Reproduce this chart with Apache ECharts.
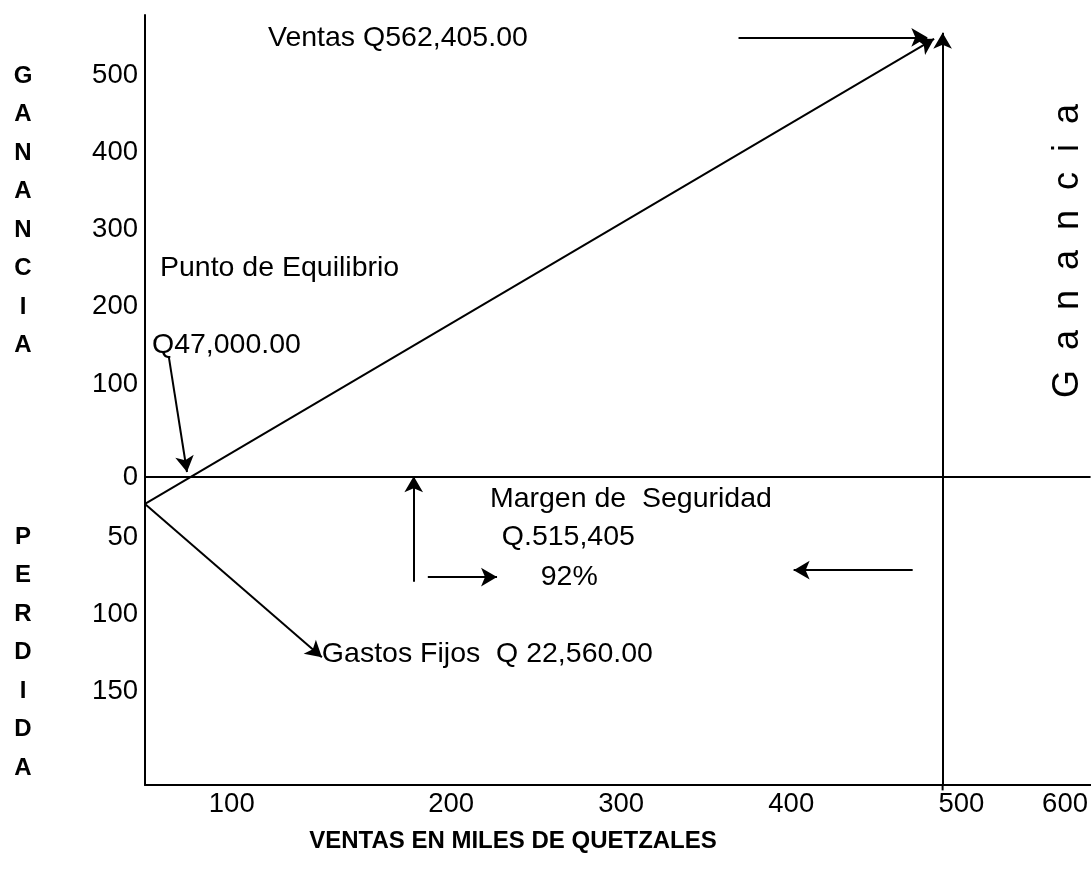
<!DOCTYPE html>
<html><head><meta charset="utf-8">
<script src="https://cdn.jsdelivr.net/npm/echarts@6/dist/echarts.min.js"></script>
<style>html,body{margin:0;padding:0;background:#fff}#c{width:1091px;height:883px}</style>
</head><body><div id="c"></div>
<script>
// ---- tick labels (custom positions, as drawn in the schematic) ----
const xTickValues = [71, 200, 300, 400, 500, 561];
const xTickLabels = ['100', '200', '300', '400', '500', '600'];
const yTickValues = [521, 421, 322, 221, 120, 0, -78, -179, -279];
const yTickLabels = ['500', '400', '300', '200', '100', '0', '50', '100', '150'];

// ---- chart values (miles de quetzales, schematic) ----
const origin = [20, -35];          // gastos fijos start at zero sales
const ventasPoint = [484, 569];    // Ventas Q562,405.00
const gastosPoint = [124, -234];   // Gastos fijos arrow end
const ventasX = 489;               // vertical line at sales level
const ventasTop = 577;
const zeroLine = [[13, 0], [576, 0]];

// arrows [from, to]
const arrowVentas = [origin, ventasPoint];
const arrowGastos = [origin, gastosPoint];
const arrowVertical = [[ventasX, -400], [ventasX, ventasTop]];
const arrowVentasLabel = [[369, 571], [480, 571]];
const arrowEquilibrio = [[34, 156], [44.7, 6.5]];
const arrowMargenUp = [[178, -136], [178, 1]];
const arrowMargenRight = [[186.3, -130], [227, -130]];
const arrowMargenLeft = [[471.4, -121], [401.4, -121]];

// annotation texts and anchors (left edge, vertical middle)
const annotationTexts = ['Ventas Q562,405.00', 'Punto de Equilibrio', 'Q47,000.00',
  'Margen de  Seguridad', 'Q.515,405', '92%', 'Gastos Fijos  Q 22,560.00'];
const annotationAnchors = [[92.3, 570], [28.8, 271.4], [24.1, 171.4],
  [222.8, -28.6], [229.8, -77.9], [252.7, -129.9], [124, -229.9]];

const FONT = 'Liberation Sans, Arial, Helvetica, sans-serif';
const BLACK = '#000';

const chart = echarts.init(document.getElementById('c'), null, {renderer: 'canvas'});

const arrows = [arrowVentas, arrowGastos, arrowVertical, arrowVentasLabel,
  arrowEquilibrio, arrowMargenUp, arrowMargenRight, arrowMargenLeft];

chart.setOption({
  animation: false,
  backgroundColor: '#fff',
  grid: {left: 145, top: 15, right: 0, bottom: 98, containLabel: false},
  xAxis: {
    type: 'value', min: 20, max: 576,
    axisLine: {show: true, onZero: false, lineStyle: {color: BLACK, width: 2}},
    axisTick: {show: false},
    splitLine: {show: false},
    axisLabel: {
      show: true, customValues: xTickValues, margin: 5,
      color: BLACK, fontSize: 27.5, fontFamily: FONT,
      formatter: v => { const i = xTickValues.indexOf(v); return i >= 0 ? xTickLabels[i] : ''; }
    }
  },
  yAxis: {
    type: 'value', min: -400, max: 600,
    axisLine: {show: true, onZero: false, lineStyle: {color: BLACK, width: 2}},
    axisTick: {show: false},
    splitLine: {show: false},
    axisLabel: {
      show: true, customValues: yTickValues, margin: 7,
      color: BLACK, fontSize: 27.5, fontFamily: FONT,
      formatter: v => { const i = yTickValues.indexOf(v); return i >= 0 ? yTickLabels[i] : ''; }
    }
  },
  series: [
    {
      type: 'line', data: zeroLine, symbol: 'none', clip: false, silent: true,
      lineStyle: {color: BLACK, width: 2},
      markLine: {
        silent: true, animation: false,
        symbol: ['none', 'arrow'], symbolSize: [14, 16],
        label: {show: false},
        lineStyle: {color: BLACK, width: 2, type: 'solid', opacity: 1},
        data: arrows.map(a => [{coord: a[0]}, {coord: a[1]}])
      }
    },
    {
      type: 'line', data: [[ventasX, -407], [ventasX, -400]], symbol: 'none', clip: false, silent: true,
      lineStyle: {color: BLACK, width: 2}
    },
    {
      type: 'scatter', symbolSize: 0, silent: true, clip: false,
      itemStyle: {color: BLACK, opacity: 1},
      data: annotationTexts.map((t, i) => ({name: t, value: annotationAnchors[i]})),
      label: {
        show: true, position: 'right', distance: 0, formatter: p => p.name,
        color: BLACK, opacity: 1, fontSize: 28.5, fontFamily: FONT
      }
    }
  ],
  graphic: [
    {type: 'text', style: {text: 'G\nA\nN\nA\nN\nC\nI\nA', x: 23, y: 57,
      textAlign: 'center', textVerticalAlign: 'top', lineHeight: 38.5,
      font: 'bold 24px ' + FONT, fill: BLACK}},
    {type: 'text', style: {text: 'P\nE\nR\nD\nI\nD\nA', x: 23, y: 518,
      textAlign: 'center', textVerticalAlign: 'top', lineHeight: 38.5,
      font: 'bold 24px ' + FONT, fill: BLACK}},
    {type: 'text', x: 1068, y: 251, rotation: Math.PI / 2,
      style: {text: 'G  a  n  a  n  c  i  a', x: 0, y: 0, textAlign: 'center', textVerticalAlign: 'middle',
      font: '36px ' + FONT, fill: BLACK}},
    {type: 'text', style: {text: 'VENTAS EN MILES DE QUETZALES', x: 513, y: 841,
      textAlign: 'center', textVerticalAlign: 'middle',
      font: 'bold 24px ' + FONT, fill: BLACK}}
  ]
});
</script>
</body></html>
